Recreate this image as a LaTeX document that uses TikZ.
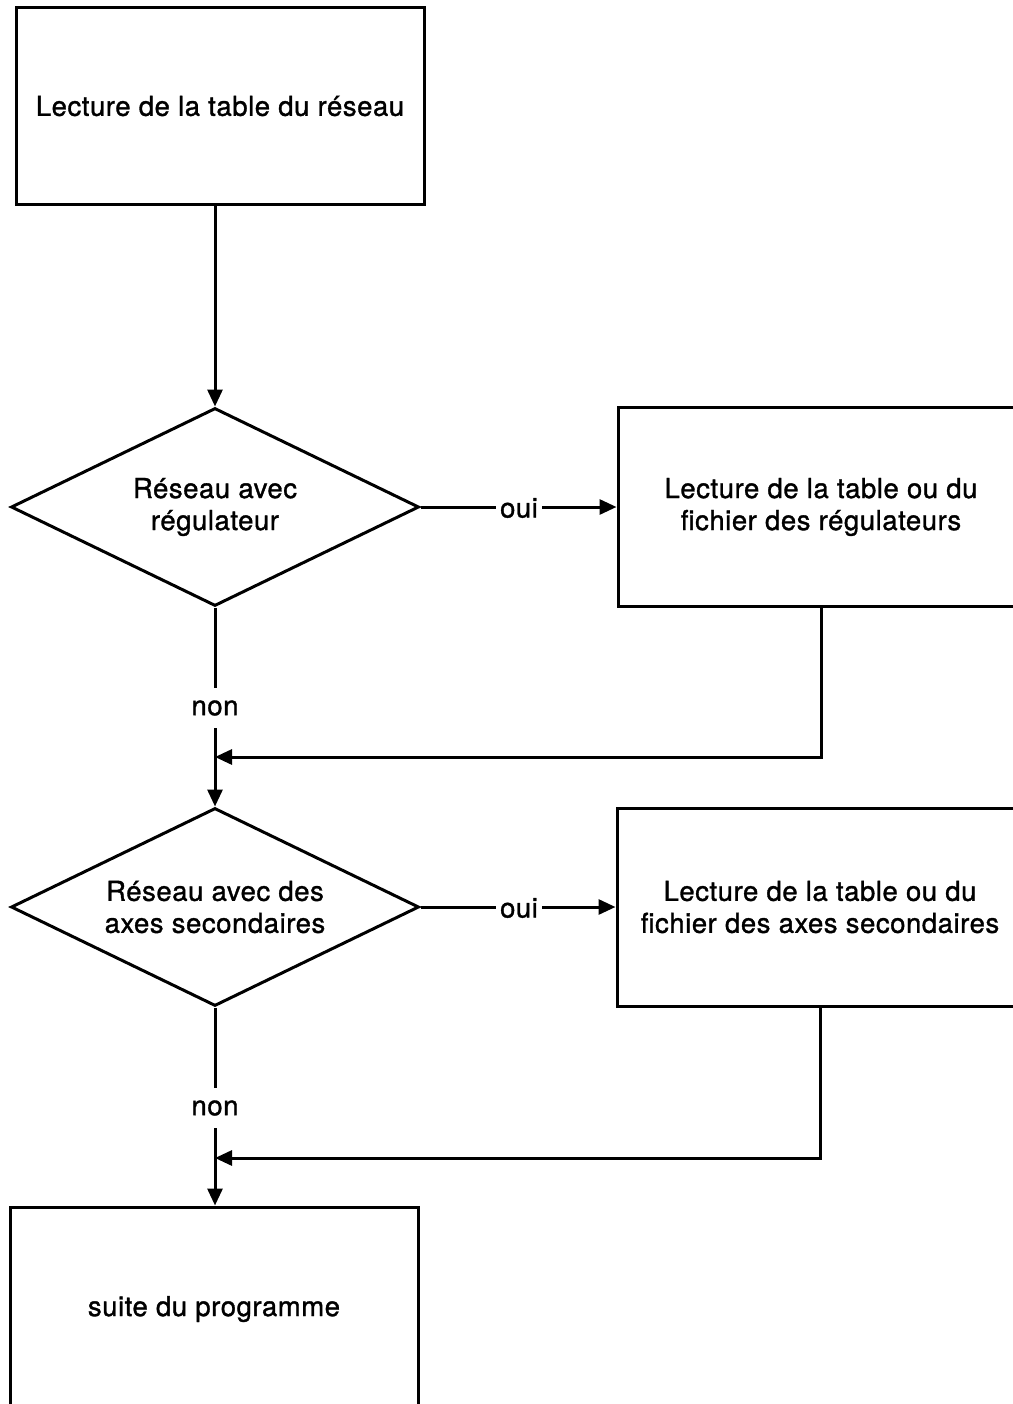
\documentclass[tikz,border=0pt]{standalone}
\usepackage{fontspec}
\setmainfont{TeX Gyre Heros}[FakeBold=1.2,LetterSpace=2]
\usetikzlibrary{shapes.geometric,arrows.meta}
\begin{document}
\begin{tikzpicture}[x=1pt,y=-1pt,
  line width=3pt, line join=miter,
  txt/.style={font=\fontsize{27.5}{32}\selectfont},
  box/.style={draw, rectangle, inner sep=0pt, align=center, txt},
  dec/.style={draw, diamond, inner sep=0pt, shape aspect=2, align=center,
    minimum width=408pt, minimum height=198pt, txt},
  lab/.style={inner xsep=3pt, inner ysep=0pt, txt},
  arr/.style={-{Triangle[length=17pt,width=15pt]}}
]
\useasboundingbox (0,0) rectangle (1012,1404);

\node[box, minimum width=408pt, minimum height=197pt] (top) at (220,106) {Lecture de la table du réseau};
\node[dec] (d1) at (215,507) {Réseau avec\\régulateur};
\node[box, minimum width=406pt, minimum height=199pt] (r1) at (821,507) {Lecture de la table ou du\\fichier des régulateurs};
\node[dec] (d2) at (215,907) {Réseau avec des\\axes secondaires};
\node[box, minimum width=406pt, minimum height=198pt] (r2) at (820,907) {Lecture de la table ou du\\fichier des axes secondaires};
\node[box, minimum width=408pt, minimum height=204pt] (fin) at (214,1309) {suite du programme};

\node[lab] (oui1) at (519,508) {oui};
\node[lab] (oui2) at (519,908) {oui};
\node[lab, minimum height=37pt] (non1) at (215,708) {non};
\node[lab, minimum height=37pt] (non2) at (215,1108) {non};
\coordinate (j1) at (215,757);
\coordinate (j2) at (215,1158);

\draw[arr] (top.south -| d1.north) -- (d1.north);
\draw (d1.east) -- (d1.east -| oui1.west);
\draw[arr] (d1.east -| oui1.east) -- (d1.east -| r1.west);
\draw (d1.south) -- (non1.north);
\draw[arr] (non1.south) -- (d2.north);
\draw[arr] (r1.south) |- (j1);

\draw (d2.east) -- (d2.east -| oui2.west);
\draw[arr] (d2.east -| oui2.east) -- (d2.east -| r2.west);
\draw (d2.south) -- (non2.north);
\draw[arr] (non2.south) -- (non2.south |- fin.north);
\draw[arr] (r2.south) |- (j2);
\end{tikzpicture}
\end{document}
